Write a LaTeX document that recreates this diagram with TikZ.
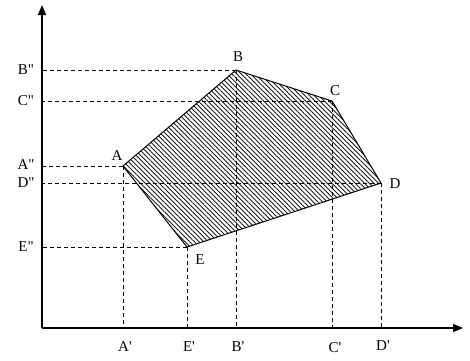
\documentclass[tikz,border=0pt]{standalone}
\usepackage{fontspec}
\setmainfont{Liberation Serif}[Ligatures=TeXOff]
\usetikzlibrary{patterns.meta,arrows.meta}
\begin{document}
\begin{tikzpicture}[x=1pt,y=-1pt,
  lbl/.style={inner sep=0pt,font=\fontsize{15}{17}\selectfont},
  guide/.style={line width=0.6pt,dash pattern=on 4pt off 3pt},
  axis/.style={line width=1.4pt,-{Triangle[length=10pt,width=8pt]}}]
\useasboundingbox (0,0) rectangle (470,360);
\coordinate (O) at (42,328);
\coordinate (Ytop) at (42,5);
\coordinate (Xend) at (463,328);
\coordinate (A) at (123,166);
\coordinate (B) at (236,70);
\coordinate (C) at (332,101);
\coordinate (D) at (381,183);
\coordinate (E) at (187,247);
% hatched polygon
\fill[pattern={Lines[angle=-45,distance=3.3pt,line width=0.9pt]},pattern color=black!90]
  (A) -- (B) -- (C) -- (D) -- (E) -- cycle;
% guides
\foreach \p in {A,B,C,D,E}{
  \draw[guide] (\p) -- (\p |- O);
  \draw[guide] (\p) -- (O |- \p);
}
\draw[line width=1pt,line join=round] (A) -- (B) -- (C) -- (D) -- (E) -- cycle;
% axes
\draw[axis] (O) -- (Ytop);
\draw[axis] (O) -- (Xend);
% point labels
\node[lbl] (lA) at (117,156) {A};
\node[lbl] (lB) at (238,57) {B};
\node[lbl] (lC) at (335,91) {C};
\node[lbl] (lD) at (395,184) {D};
\node[lbl] (lE) at (200,260) {E};
% y labels
\node[lbl] (lB2) at (26,70) {B"};
\node[lbl] (lC2) at (26,101) {C"};
\node[lbl] (lA2) at (26,165) {A"};
\node[lbl] (lD2) at (26,183) {D"};
\node[lbl] (lE2) at (26,247) {E"};
% x labels
\node[lbl] (lA1) at (125,347) {A'};
\node[lbl] (lE1) at (189,347) {E'};
\node[lbl] (lB1) at (238,347) {B'};
\node[lbl] (lC1) at (335,348) {C'};
\node[lbl] (lD1) at (383,346) {D'};
\end{tikzpicture}
\end{document}
